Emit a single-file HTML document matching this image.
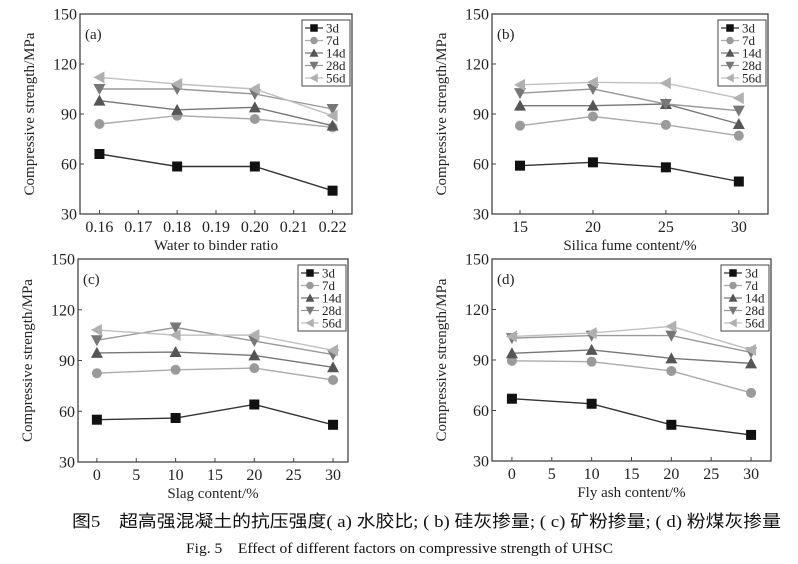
<!DOCTYPE html>
<html><head><meta charset="utf-8"><style>
body{margin:0;background:#fff;width:798px;height:564px;overflow:hidden}
svg{display:block}
</style></head><body>
<svg id="fig" width="798" height="564" viewBox="0 0 798 564" font-family="'Liberation Serif','Noto Serif CJK SC',serif">
<text x="72" y="527" font-size="17" font-family="'Liberation Serif','Noto Sans CJK SC',sans-serif" textLength="709" lengthAdjust="spacingAndGlyphs" fill="#111">图5　超高强混凝土的抗压强度( a) 水胶比; ( b) 硅灰掺量; ( c) 矿粉掺量; ( d) 粉煤灰掺量</text>
<text x="186" y="553" font-size="15" textLength="427" lengthAdjust="spacingAndGlyphs" fill="#111">Fig. 5　Effect of different factors on compressive strength of UHSC</text>
</svg>
<script>
const seriesNames=['3d','7d','14d','28d','56d'];
const yTicks=[30,60,90,120,150];
const catsA=[0.16,0.18,0.20,0.22];
const ticksA=['0.16','0.17','0.18','0.19','0.20','0.21','0.22'];
const a3=[66,58.5,58.5,44], a7=[84,89,87,82], a14=[98,92.5,94,83], a28=[105,105,102,93], a56=[112,108,105,89];
const catsB=[15,20,25,30];
const ticksB=['15','20','25','30'];
const b3=[59,61,58,49.5], b7=[83,88.5,83.5,77], b14=[95,95,96,84], b28=[102.5,105,96,92], b56=[107.5,109,108.5,99.5];
const catsC=[0,10,20,30];
const ticksC=['0','5','10','15','20','25','30'];
const c3=[55,56,64,52], c7=[82.5,84.5,85.5,78.5], c14=[94.5,95,93,86], c28=[102,109.5,101.5,93.5], c56=[108,105,105,96];
const catsD=[0,10,20,30];
const ticksD=['0','5','10','15','20','25','30'];
const d3=[67,64,51.5,45.5], d7=[89.5,89,83.5,70.5], d14=[94,96,91,88], d28=[103,104.5,104.5,94.5], d56=[104,106,110,96];

const NS='http://www.w3.org/2000/svg';
const svg=document.getElementById('fig');
const fills=['#111','#9a9a9a','#555','#777','#b0b0b0'];
const lines=['#333','#aaa','#777','#999','#c0c0c0'];
function mk(tag,attrs,parent){const e=document.createElementNS(NS,tag);for(const k in attrs)e.setAttribute(k,attrs[k]);(parent||svg).appendChild(e);return e;}
function marker(g,k,x,y){
  const s=5;
  if(k===0) return mk('rect',{x:x-s,y:y-s,width:2*s,height:2*s,fill:fills[k]},g);
  if(k===1) return mk('circle',{cx:x,cy:y,r:s,fill:fills[k]},g);
  if(k===2) return mk('polygon',{points:`${x},${y-s-1} ${x+s+1},${y+s} ${x-s-1},${y+s}`,fill:fills[k]},g);
  if(k===3) return mk('polygon',{points:`${x},${y+s+1} ${x+s+1},${y-s} ${x-s-1},${y-s}`,fill:fills[k]},g);
  return mk('polygon',{points:`${x-s-1},${y} ${x+s},${y-s-1} ${x+s},${y+s+1}`,fill:fills[k]},g);
}
function panel(id,L,R,T,B,xmin,xmax,cats,ticks,series,label,xtitle){
  const g=mk('g',{});
  
  
  const xs=v=>L+(v-xmin)/(xmax-xmin)*(R-L);
  const ys=v=>B-(v-30)/120*(B-T);
  const box=mk('rect',{x:L,y:T,width:R-L,height:B-T,fill:'none',stroke:'#444','stroke-width':1.3},g);
  
  
  yTicks.forEach(v=>{
    const y=ys(v);
    mk('line',{x1:L,x2:L+4,y1:y,y2:y,stroke:'#444'},g);
    const t=mk('text',{x:L-3,y:y+5.5,'font-size':16,'text-anchor':'end',fill:'#222'},g);
    t.textContent=v;
    
    
  });
  ticks.forEach(s=>{
    const x=xs(parseFloat(s));
    mk('line',{x1:x,x2:x,y1:B,y2:B-4,stroke:'#444'},g);
    const t=mk('text',{x:x,y:B+18,'font-size':16,'text-anchor':'middle',fill:'#222'},g);
    t.textContent=s;
    
    
  });
  const yt=mk('text',{x:0,y:0,'font-size':15,'text-anchor':'middle',fill:'#222',transform:`translate(${L-46},${(T+B)/2}) rotate(-90)`},g);
  yt.textContent='Compressive strength/MPa';
  
  
  const xt=mk('text',{x:(L+R)/2,y:B+36,'font-size':15,'text-anchor':'middle',fill:'#222'},g);
  xt.textContent=xtitle;
  
  
  const pl=mk('text',{x:L+5,y:T+25,'font-size':15,fill:'#222'},g);
  pl.textContent=label;
  
  
  series.forEach((vals,k)=>{
    const sg=mk('g',{},g);
    
    
    const pts=vals.map((v,i)=>xs(cats[i])+','+ys(v)).join(' ');
    mk('polyline',{points:pts,fill:'none',stroke:lines[k],'stroke-width':1.4},sg);
    vals.forEach((v,i)=>{
      const m=marker(sg,k,xs(cats[i]),ys(v));
      
      
    });
  });
  const lg=mk('g',{},g);
  
  
  const lx=R-50, ly=T+6;
  mk('rect',{x:lx,y:ly,width:48,height:66,fill:'#fff',stroke:'#444','stroke-width':1},lg);
  seriesNames.forEach((n,k)=>{
    const y=ly+8+k*12.5;
    const e=mk('g',{},lg);
    
    
    mk('line',{x1:lx+3,x2:lx+21,y1:y,y2:y,stroke:lines[k],'stroke-width':1.3},e);
    const m=marker(e,k,lx+12,y); m.setAttribute('transform',`translate(${lx+12},${y}) scale(0.75) translate(${-(lx+12)},${-y})`);
    const t=mk('text',{x:lx+24,y:y+4.5,'font-size':13,fill:'#222'},e);
    t.textContent=n;
  });
}
panel('a',80,352,14,214,0.155,0.225,catsA,ticksA,[a3,a7,a14,a28,a56],'(a)','Water to binder ratio');
panel('b',492,768,14,214,13.08,32,catsB,ticksB,[b3,b7,b14,b28,b56],'(b)','Silica fume content/%');
panel('c',78,348,259,462,-2.4,31.9,catsC,ticksC,[c3,c7,c14,c28,c56],'(c)','Slag content/%');
panel('d',492,771,259,461,-2.5,32.5,catsD,ticksD,[d3,d7,d14,d28,d56],'(d)','Fly ash content/%');
</script>
</body></html>
